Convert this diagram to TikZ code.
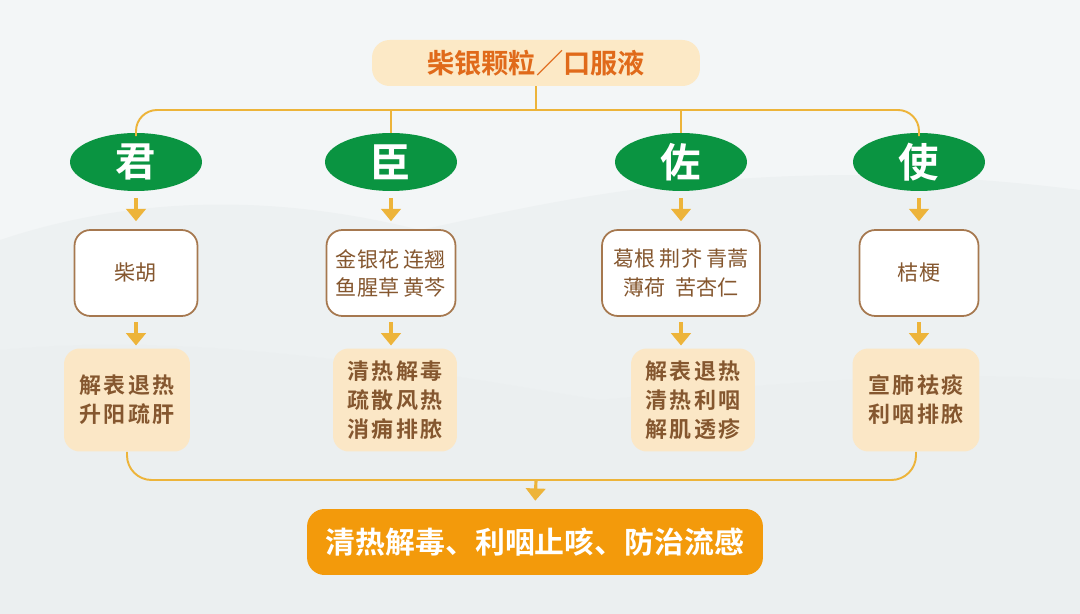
\documentclass[tikz,border=0pt]{standalone}
\usepackage{fontspec}
\newfontfamily\cjk{Noto Sans CJK SC}[BoldFont={Noto Sans CJK SC Bold}]
\newfontfamily\cjkwide{Noto Sans CJK SC}[BoldFont={Noto Sans CJK SC Bold},LetterSpace=12]
\usetikzlibrary{calc,shapes.geometric,arrows.meta}
\definecolor{bgcol}{HTML}{F3F6F7}
\definecolor{hillcol}{HTML}{EAEEEF}
\definecolor{goldcol}{HTML}{EDB43A}
\definecolor{greencol}{HTML}{0A9441}
\definecolor{titlefill}{HTML}{FCE9C6}
\definecolor{titletext}{HTML}{E06A1A}
\definecolor{brownline}{HTML}{A6784F}
\definecolor{browntext}{HTML}{85572F}
\definecolor{creamfill}{HTML}{FBE7C6}
\definecolor{resultfill}{HTML}{F39A0B}
\tikzset{
  role/.style={ellipse,fill=greencol,text=white,font=\cjk\bfseries\fontsize{23}{23}\selectfont,
    minimum width=2.64cm,minimum height=1.16cm,inner sep=0pt},
  herb/.style={draw=brownline,line width=1pt,fill=white,rounded corners=9pt,text=browntext,
    font=\cjk\fontsize{12}{16}\selectfont,align=center,minimum height=1.72cm,inner sep=0pt},
  effect/.style={fill=creamfill,rounded corners=9pt,text=browntext,
    font=\cjkwide\bfseries\fontsize{12.5}{16.5}\selectfont,align=center,minimum height=2.06cm,inner sep=0pt},
  link/.style={draw=goldcol,line width=1.1pt},
  arr/.style={draw=goldcol,line width=1.8pt,-{Triangle[width=11pt,length=7pt]},
    shorten <=4pt,shorten >=4.5pt}
}
\begin{document}
\begin{tikzpicture}[x=0.02cm,y=-0.02cm]
  % background
  \fill[bgcol] (0,0) rectangle (1080,614);
  \useasboundingbox (0,0) rectangle (1080,614);
  \fill[hillcol,opacity=.6] (0,240) .. controls (120,200) and (260,190) .. (420,230)
    .. controls (560,200) and (760,150) .. (1080,190) -- (1080,614) -- (0,614) -- cycle;
  \fill[hillcol,opacity=.5] (0,350) .. controls (200,330) and (420,370) .. (600,400)
    .. controls (800,380) and (950,370) .. (1080,380) -- (1080,614) -- (0,614) -- cycle;
  % title
  \node[fill=titlefill,rounded corners=10pt,text=titletext,font=\cjk\bfseries\fontsize{15.5}{15.5}\selectfont,
    minimum width=6.56cm,minimum height=0.92cm] (title) at (536,63) {柴银颗粒／口服液};
  % roles
  \node[role] (jun) at (136,162) {君};
  \node[role] (chen) at (391,162) {臣};
  \node[role] (zuo) at (681,162) {佐};
  \node[role] (shi) at (919,162) {使};
  % herbs
  \node[herb,minimum width=2.46cm] (junherb) at (136,273) {柴胡};
  \node[herb,minimum width=2.58cm] (chenherb) at (391,273) {金银花\ 连翘\\鱼腥草\ 黄芩};
  \node[herb,minimum width=3.16cm] (zuoherb) at (681,273) {葛根 荆芥 青蒿\\薄荷\ \ 苦杏仁};
  \node[herb,minimum width=2.38cm] (shiherb) at (919,273) {桔梗};
  % effects
  \node[effect,minimum width=2.52cm] (junfx) at (127,400) {解表退热\\升阳疏肝};
  \node[effect,minimum width=2.48cm] (chenfx) at (395,400) {清热解毒\\疏散风热\\消痈排脓};
  \node[effect,minimum width=2.48cm] (zuofx) at (693,400) {解表退热\\清热利咽\\解肌透疹};
  \node[effect,minimum width=2.54cm] (shifx) at (916,400) {宣肺祛痰\\利咽排脓};
  % result
  \node[fill=resultfill,rounded corners=10pt,text=white,font=\cjk\bfseries\fontsize{17}{17}\selectfont,
    minimum width=9.12cm,minimum height=1.32cm] (result) at (535,542) {清热解毒、利咽止咳、防治流感};
  % connectors
  \coordinate (top) at (536,110);
  \coordinate (bot) at (536,480);
  \draw[link] (title.south) -- (top);
  \draw[link,rounded corners=12pt] ([yshift=-2pt]jun.north) |- (top) -| ([yshift=-2pt]shi.north);
  \draw[link] (chen.north) -- (chen.north |- top) (zuo.north) -- (zuo.north |- top);
  \foreach \r/\h/\f in {jun/junherb/junfx,chen/chenherb/chenfx,zuo/zuoherb/zuofx,shi/shiherb/shifx}{
    \draw[arr] (\r.south) -- (\r.south |- \h.north);
    \draw[arr,shorten <=3pt,shorten >=1.5pt] (\h.south) -- (\h.south |- \f.north);
  }
  \draw[link,rounded corners=14pt] (junfx.south) |- (bot) -| (shifx.south);
  \draw[arr,shorten <=0pt] (bot) -- (result.north);
\end{tikzpicture}
\end{document}
